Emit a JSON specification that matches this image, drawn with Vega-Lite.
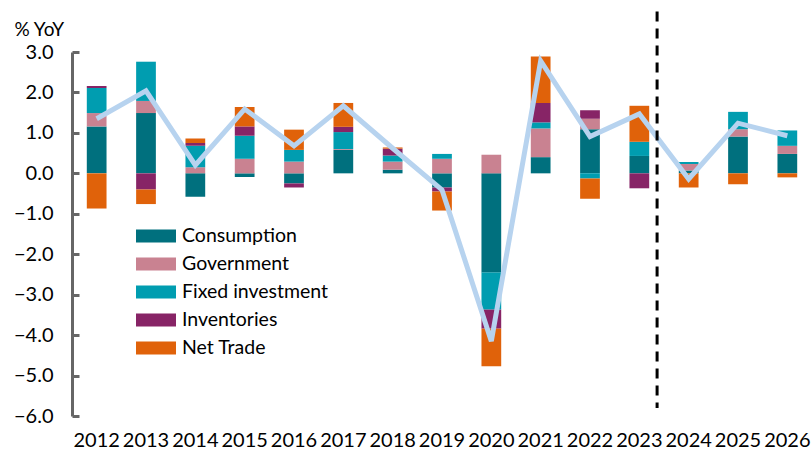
{
  "$schema": "https://vega.github.io/schema/vega-lite/v6.json",
  "width": 740,
  "height": 364,
  "autosize": {"type": "none"},
  "padding": {"left": 72, "top": 52, "right": 0, "bottom": 39},
  "background": "white",
  "config": {
    "view": {"stroke": null},
    "font": "Lato",
    "axis": {"labelFont": "Lato", "titleFont": "Lato", "labelColor": "#000", "titleColor": "#000"}
  },
  "datasets": {
    "contrib": [
      {"year": "2012", "component": "Consumption", "value": 1.16},
      {"year": "2012", "component": "Government", "value": 0.33},
      {"year": "2012", "component": "Fixed investment", "value": 0.62},
      {"year": "2012", "component": "Inventories", "value": 0.05},
      {"year": "2012", "component": "Net Trade", "value": -0.87},
      {"year": "2013", "component": "Consumption", "value": 1.49},
      {"year": "2013", "component": "Government", "value": 0.30},
      {"year": "2013", "component": "Fixed investment", "value": 0.97},
      {"year": "2013", "component": "Inventories", "value": -0.40},
      {"year": "2013", "component": "Net Trade", "value": -0.36},
      {"year": "2014", "component": "Consumption", "value": -0.58},
      {"year": "2014", "component": "Government", "value": 0.15},
      {"year": "2014", "component": "Fixed investment", "value": 0.53},
      {"year": "2014", "component": "Inventories", "value": 0.07},
      {"year": "2014", "component": "Net Trade", "value": 0.11},
      {"year": "2015", "component": "Consumption", "value": -0.09},
      {"year": "2015", "component": "Government", "value": 0.36},
      {"year": "2015", "component": "Fixed investment", "value": 0.57},
      {"year": "2015", "component": "Inventories", "value": 0.23},
      {"year": "2015", "component": "Net Trade", "value": 0.48},
      {"year": "2016", "component": "Consumption", "value": -0.25},
      {"year": "2016", "component": "Government", "value": 0.29},
      {"year": "2016", "component": "Fixed investment", "value": 0.29},
      {"year": "2016", "component": "Inventories", "value": -0.10},
      {"year": "2016", "component": "Net Trade", "value": 0.50},
      {"year": "2017", "component": "Consumption", "value": 0.58},
      {"year": "2017", "component": "Government", "value": 0.02},
      {"year": "2017", "component": "Fixed investment", "value": 0.42},
      {"year": "2017", "component": "Inventories", "value": 0.13},
      {"year": "2017", "component": "Net Trade", "value": 0.59},
      {"year": "2018", "component": "Consumption", "value": 0.09},
      {"year": "2018", "component": "Government", "value": 0.20},
      {"year": "2018", "component": "Fixed investment", "value": 0.15},
      {"year": "2018", "component": "Inventories", "value": 0.17},
      {"year": "2018", "component": "Net Trade", "value": 0.03},
      {"year": "2019", "component": "Consumption", "value": -0.35},
      {"year": "2019", "component": "Government", "value": 0.36},
      {"year": "2019", "component": "Fixed investment", "value": 0.12},
      {"year": "2019", "component": "Inventories", "value": -0.10},
      {"year": "2019", "component": "Net Trade", "value": -0.47},
      {"year": "2020", "component": "Consumption", "value": -2.45},
      {"year": "2020", "component": "Government", "value": 0.46},
      {"year": "2020", "component": "Fixed investment", "value": -0.92},
      {"year": "2020", "component": "Inventories", "value": -0.47},
      {"year": "2020", "component": "Net Trade", "value": -0.93},
      {"year": "2021", "component": "Consumption", "value": 0.40},
      {"year": "2021", "component": "Government", "value": 0.71},
      {"year": "2021", "component": "Fixed investment", "value": 0.15},
      {"year": "2021", "component": "Inventories", "value": 0.48},
      {"year": "2021", "component": "Net Trade", "value": 1.15},
      {"year": "2022", "component": "Consumption", "value": 1.09},
      {"year": "2022", "component": "Government", "value": 0.26},
      {"year": "2022", "component": "Fixed investment", "value": -0.13},
      {"year": "2022", "component": "Inventories", "value": 0.21},
      {"year": "2022", "component": "Net Trade", "value": -0.50},
      {"year": "2023", "component": "Consumption", "value": 0.43},
      {"year": "2023", "component": "Government", "value": 0.0},
      {"year": "2023", "component": "Fixed investment", "value": 0.35},
      {"year": "2023", "component": "Inventories", "value": -0.37},
      {"year": "2023", "component": "Net Trade", "value": 0.89},
      {"year": "2024", "component": "Consumption", "value": 0.07},
      {"year": "2024", "component": "Government", "value": 0.16},
      {"year": "2024", "component": "Fixed investment", "value": 0.05},
      {"year": "2024", "component": "Inventories", "value": 0.0},
      {"year": "2024", "component": "Net Trade", "value": -0.35},
      {"year": "2025", "component": "Consumption", "value": 0.91},
      {"year": "2025", "component": "Government", "value": 0.18},
      {"year": "2025", "component": "Fixed investment", "value": 0.43},
      {"year": "2025", "component": "Inventories", "value": 0.0},
      {"year": "2025", "component": "Net Trade", "value": -0.27},
      {"year": "2026", "component": "Consumption", "value": 0.48},
      {"year": "2026", "component": "Government", "value": 0.20},
      {"year": "2026", "component": "Fixed investment", "value": 0.38},
      {"year": "2026", "component": "Inventories", "value": 0.0},
      {"year": "2026", "component": "Net Trade", "value": -0.10}
    ],
    "gdp": [
      {"year": "2012", "gdp": 1.35},
      {"year": "2013", "gdp": 2.04},
      {"year": "2014", "gdp": 0.20},
      {"year": "2015", "gdp": 1.59},
      {"year": "2016", "gdp": 0.68},
      {"year": "2017", "gdp": 1.67},
      {"year": "2018", "gdp": 0.62},
      {"year": "2019", "gdp": -0.41},
      {"year": "2020", "gdp": -4.15},
      {"year": "2021", "gdp": 2.78},
      {"year": "2022", "gdp": 0.91},
      {"year": "2023", "gdp": 1.47},
      {"year": "2024", "gdp": -0.14},
      {"year": "2025", "gdp": 1.24},
      {"year": "2026", "gdp": 0.93}
    ],
    "divider": [
      {"year": "2023", "top": 4.0, "bottom": -5.8}
    ]
  },
  "encoding": {
    "x": {
      "field": "year",
      "type": "ordinal",
      "scale": {"paddingInner": 0.6, "paddingOuter": 0.3},
      "axis": {
        "title": null,
        "domain": false,
        "ticks": false,
        "labelAngle": 0,
        "labelFontSize": 20,
        "labelPadding": 14
      }
    }
  },
  "layer": [
    {
      "data": {"name": "contrib"},
      "transform": [
        {"calculate": "indexof(['Consumption','Government','Fixed investment','Inventories','Net Trade'], datum.component)", "as": "stackIdx"}
      ],
      "mark": {"type": "bar"},
      "encoding": {
        "y": {
          "field": "value",
          "type": "quantitative",
          "stack": "zero",
          "scale": {"domain": [-6, 3], "nice": false, "zero": false},
          "axis": {
            "title": "% YoY",
            "titleAngle": 0,
            "titleAlign": "left",
            "titleBaseline": "alphabetic",
            "titleFontSize": 19,
            "titleFontWeight": "normal",
            "titleX": -58,
            "titleY": -17,
            "values": [-6, -5, -4, -3, -2, -1, 0, 1, 2, 3],
            "format": ".1f",
            "grid": false,
            "domainColor": "#666666",
            "domainWidth": 3,
            "tickColor": "#666666",
            "tickWidth": 3,
            "tickSize": -7,
            "labelPadding": 26,
            "labelFontSize": 20
          }
        },
        "color": {
          "field": "component",
          "type": "nominal",
          "sort": ["Consumption", "Government", "Fixed investment", "Inventories", "Net Trade"],
          "scale": {
            "domain": ["Consumption", "Government", "Fixed investment", "Inventories", "Net Trade"],
            "range": ["#00707E", "#C98291", "#009DB0", "#872466", "#E0620A"]
          },
          "legend": {
            "title": null,
            "orient": "none",
            "legendX": 64,
            "legendY": 170,
            "padding": 0,
            "symbolType": "M-1,-0.33H1V0.33H-1Z",
            "symbolSize": 1600,
            "symbolStrokeWidth": 0,
            "symbolOpacity": 1,
            "clipHeight": 28,
            "rowPadding": 0,
            "labelFontSize": 19.5,
            "labelFont": "Lato",
            "labelColor": "#000",
            "labelOffset": 6
          }
        },
        "order": {"field": "stackIdx", "type": "quantitative", "sort": "ascending"}
      }
    },
    {
      "mark": {"type": "rule", "color": "#666666", "strokeWidth": 3},
      "encoding": {"y": {"datum": 0}}
    },
    {
      "data": {"name": "gdp"},
      "mark": {"type": "line", "color": "#B7D3EF", "strokeWidth": 5},
      "encoding": {
        "y": {"field": "gdp", "type": "quantitative"}
      }
    },
    {
      "data": {"name": "divider"},
      "mark": {"type": "rule", "color": "#000000", "strokeWidth": 3, "strokeDash": [10, 7]},
      "encoding": {
        "x": {"field": "year", "type": "ordinal", "bandPosition": 1.4},
        "y": {"field": "top", "type": "quantitative"},
        "y2": {"field": "bottom"}
      }
    }
  ]
}
